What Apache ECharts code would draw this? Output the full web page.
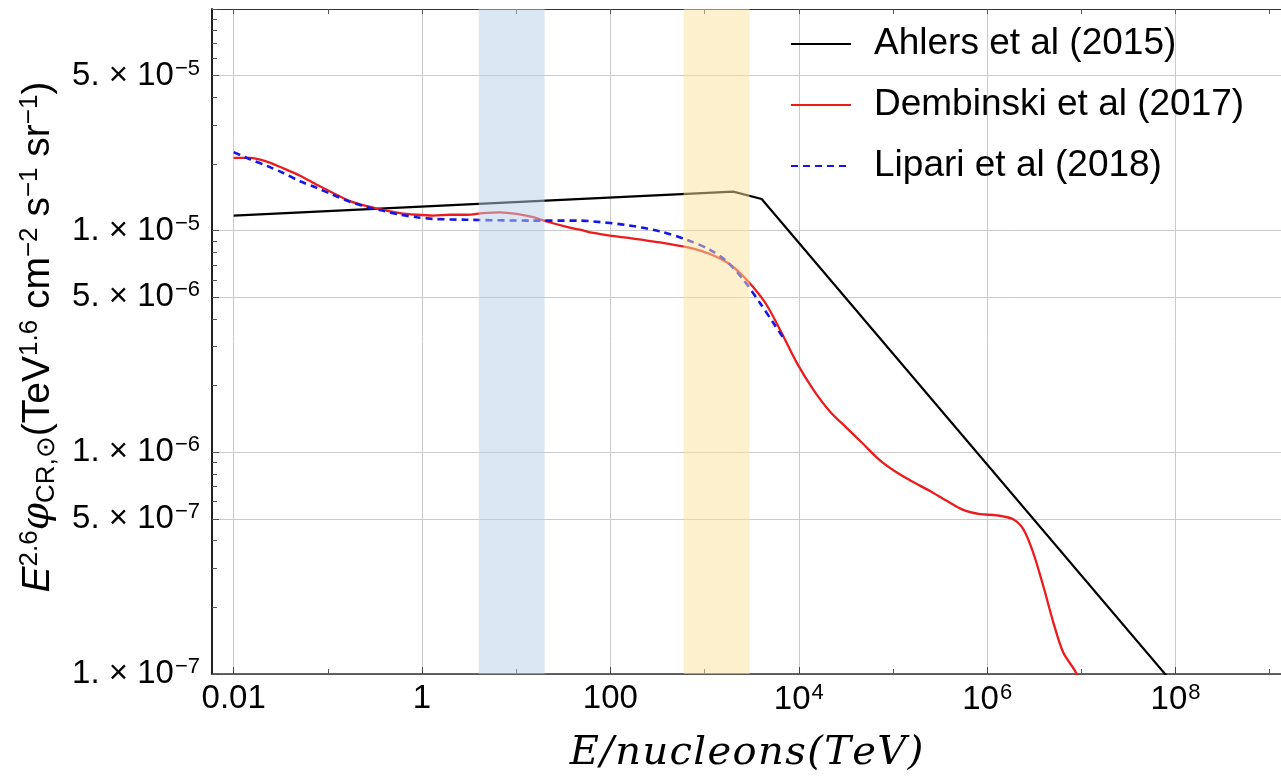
<!DOCTYPE html>
<html><head><meta charset="utf-8">
<script src="https://cdn.jsdelivr.net/npm/echarts@6/dist/echarts.min.js"></script>
<style>html,body{margin:0;padding:0;background:#fff}#c{width:1281px;height:779px}</style>
</head><body><div id="c"></div>
<script>
// ---- data (E in TeV per nucleon, flux = E^2.6 phi in TeV^1.6 cm^-2 s^-1 sr^-1) ----
const ahlersE = [0.01, 2018, 4036, 1e8];
const ahlersF = [1.17e-5, 1.50e-5, 1.39e-5, 8.8e-8];

const dembinskiE = [0.01, 0.0149, 0.0225, 0.0337, 0.0507, 0.0762, 0.1135, 0.172, 0.259, 0.358,
  0.584, 0.879, 1.31, 1.98, 2.98, 4.45, 6.73, 10.1, 15.1, 21.1, 34.4, 47.6, 65.8, 99, 149, 223,
  336, 506, 759, 1140, 1718, 2377, 3290, 4560, 6310, 9500, 14260, 21400, 32200, 48400,
  72800, 109000, 164000, 247000, 372000, 557000, 839000, 1.26e6, 1.89e6, 2.42e6, 3.08e6,
  3.94e6, 5.04e6, 6.43e6, 8.9e6, 1.12e7];
const dembinskiF = [2.13e-5, 2.13e-5, 2.05e-5, 1.91e-5, 1.77e-5, 1.61e-5, 1.48e-5, 1.36e-5, 1.29e-5, 1.25e-5,
  1.20e-5, 1.18e-5, 1.17e-5, 1.18e-5, 1.18e-5, 1.20e-5, 1.21e-5, 1.19e-5, 1.15e-5, 1.10e-5, 1.04e-5, 1.01e-5,
  9.77e-6, 9.5e-6, 9.3e-6, 9.08e-6, 8.85e-6, 8.59e-6, 8.30e-6, 7.85e-6, 7.2e-6, 6.44e-6, 5.55e-6, 4.62e-6,
  3.58e-6, 2.54e-6, 1.92e-6, 1.53e-6, 1.29e-6, 1.09e-6, 9.2e-7, 8.13e-7, 7.35e-7, 6.69e-7,
  6.04e-7, 5.5e-7, 5.26e-7, 5.2e-7, 4.99e-7, 4.5e-7, 3.53e-7, 2.5e-7, 1.71e-7, 1.25e-7, 1.0e-7, 7e-8];

const lipariE = [0.01, 0.0149, 0.0225, 0.0337, 0.0507, 0.0762, 0.1135, 0.172, 0.259, 0.388,
  0.584, 0.879, 1.31, 2.98, 15.1, 47.6, 65.8, 149, 336, 646, 1140, 1718, 2576, 3873, 5358, 6840];
const lipariF = [2.26e-5, 2.10e-5, 1.96e-5, 1.82e-5, 1.67e-5, 1.56e-5, 1.45e-5, 1.35e-5, 1.28e-5, 1.23e-5,
  1.18e-5, 1.15e-5, 1.13e-5, 1.12e-5, 1.11e-5, 1.11e-5, 1.10e-5, 1.06e-5, 9.93e-6, 9.1e-6, 8.2e-6,
  7.27e-6, 6.01e-6, 4.72e-6, 3.84e-6, 3.29e-6];

const seriesNames = ['Ahlers et al (2015)', 'Dembinski et al (2017)', 'Lipari et al (2018)'];

// shaded energy bands (TeV)
const bandLo = [4, 600];
const bandHi = [20, 3000];

// tick labels
const xTickValues = [0.01, 1, 100, 1e4, 1e6, 1e8];
const xTickLabels = ['0.01', '1', '100', '10{s|4}', '10{s|6}', '10{s|8}'];
const yTickValues = [5e-5, 1e-5, 5e-6, 1e-6, 5e-7, 1e-7];
const yTickLabels = ['5. × 10{s|−5}', '1. × 10{s|−5}', '5. × 10{s|−6}', '1. × 10{s|−6}', '5. × 10{s|−7}', '1. × 10{s|−7}'];

// ---- build ----
const L = Math.log10;
const X_MIN = -2.23, X_MAX = 9.12, Y_MIN = -7, Y_MAX = -4;
const pairs = (e, f) => e.map((v, i) => [L(v), L(f[i])]);

const xMajor = xTickValues.map(L);
const xMinor = [-1, 1, 3, 5, 7, 9];
const xAll = [];
for (let k = -2; k <= 9; k++) xAll.push(k);
const yMajor = yTickValues.map(L);
const yAll = [];
for (let k = -7; k <= -5; k++) for (let n = 1; n <= 9; n++) yAll.push(L(n * Math.pow(10, k)));
yAll.push(-4);

function lookup(vals, labels, v) {
  for (let i = 0; i < vals.length; i++) if (Math.abs(vals[i] - v) < 1e-6) return labels[i];
  return '';
}

const FONT = 'Liberation Sans';
const tickFont = 33;
const supRich = { s: { fontSize: 22, fontFamily: FONT, color: '#000', verticalAlign: 'top', padding: [0, 0, 14, 1] } };

const chart = echarts.init(document.getElementById('c'), null, { renderer: 'canvas' });

const xTitle = 'E/nucleons(TeV)'.split('').map(c => '{c|' + c + '}').join('');

const yTitle = '{e|E}{sp|2.6}{ph|φ}{sb|CR,⊙}{m|(TeV}{sp|1.6}{m| cm}{sp|−2}{m| s}{sp|−1}{m| sr}{sp|−1}{m|)}';

chart.setOption({
  animation: false,
  backgroundColor: '#fff',
  grid: { left: 212, top: 9, right: 0, bottom: 104, containLabel: false },
  legend: {
    data: seriesNames,
    orient: 'vertical',
    left: 785, top: 19,
    itemWidth: 60, itemHeight: 16, itemGap: 21,
    itemStyle: { opacity: 0 },
    textStyle: { fontSize: 37, fontFamily: FONT, color: '#000', lineHeight: 40, padding: [0, 0, 0, 18] }
  },
  xAxis: [
    {
      type: 'value', min: X_MIN, max: X_MAX, position: 'bottom',
      axisLine: { show: true, onZero: false, lineStyle: { color: '#333', width: 1.5 } },
      axisTick: { show: true, inside: true, length: 7, customValues: xMajor, lineStyle: { color: '#444' } },
      axisLabel: {
        customValues: xMajor, margin: 8, fontSize: tickFont, fontFamily: FONT, color: '#000',
        formatter: v => lookup(xMajor, xTickLabels, v), rich: supRich
      },
      splitLine: { show: true, lineStyle: { color: '#cacaca', width: 1 } },
      name: xTitle, nameLocation: 'middle', nameGap: 60,
      nameTextStyle: {
        fontSize: 40, fontFamily: 'DejaVu Serif', fontStyle: 'italic', color: '#000',
        rich: { c: { fontSize: 40, fontFamily: 'DejaVu Serif', fontStyle: 'italic', color: '#000', padding: [0, 0.7, 0, 0.7] } }
      }
    },
    {
      type: 'value', min: X_MIN, max: X_MAX, position: 'bottom',
      axisLine: { show: false, onZero: false },
      axisTick: { show: true, inside: true, length: 5, customValues: xMinor, lineStyle: { color: '#555' } },
      axisLabel: { show: false }, splitLine: { show: false }
    },
    {
      type: 'value', min: X_MIN, max: X_MAX, position: 'top',
      axisLine: { show: true, onZero: false, lineStyle: { color: '#333', width: 1.2 } },
      axisTick: { show: true, inside: true, length: 5, customValues: xAll, lineStyle: { color: '#555' } },
      axisLabel: { show: false }, splitLine: { show: false }
    }
  ],
  yAxis: [
    {
      type: 'value', min: Y_MIN, max: Y_MAX, position: 'left',
      axisLine: { show: true, onZero: false, lineStyle: { color: '#222', width: 2 } },
      axisTick: { show: true, inside: true, length: 7, customValues: yMajor, lineStyle: { color: '#444' } },
      axisLabel: {
        customValues: yMajor, margin: 12, fontSize: tickFont, fontFamily: FONT, color: '#000',
        formatter: v => lookup(yMajor, yTickLabels, v), rich: supRich
      },
      splitLine: { show: true, lineStyle: { color: '#cacaca', width: 1 } }
    },
    {
      type: 'value', min: Y_MIN, max: Y_MAX, position: 'left',
      axisLine: { show: false, onZero: false },
      axisTick: { show: true, inside: true, length: 5, customValues: yAll, lineStyle: { color: '#555' } },
      axisLabel: { show: false }, splitLine: { show: false }
    }
  ],
  graphic: [{
    type: 'text', x: 38, y: 337, rotation: Math.PI / 2, silent: true,
    style: {
      text: yTitle, align: 'center', verticalAlign: 'middle', fill: '#000',
      font: '39px "Liberation Sans"',
      rich: {
        e: { fontSize: 39, fontFamily: FONT, fontStyle: 'italic', fill: '#000', color: '#000' },
        m: { fontSize: 39, fontFamily: FONT, fill: '#000', color: '#000' },
        ph: { fontSize: 39, fontFamily: 'DejaVu Serif', fontStyle: 'italic', fill: '#000', color: '#000' },
        sp: { fontSize: 26, fontFamily: FONT, fill: '#000', color: '#000', verticalAlign: 'top', padding: [0, 0, 17, 0] },
        sb: { fontSize: 26, fontFamily: FONT, fill: '#000', color: '#000', verticalAlign: 'bottom', padding: [12, 0, 0, 0] }
      }
    }
  }],
  series: [
    {
      name: seriesNames[0], type: 'line', data: pairs(ahlersE, ahlersF), symbol: 'none', z: 2, clip: true,
      lineStyle: { color: '#000', width: 2.2 }, itemStyle: { color: '#000' }
    },
    {
      name: seriesNames[1], type: 'line', data: pairs(dembinskiE, dembinskiF), symbol: 'none', z: 3, clip: true,
      smooth: 0.3, lineStyle: { color: '#ec1c1c', width: 2.3 }, itemStyle: { color: '#ec1c1c' }
    },
    {
      name: seriesNames[2], type: 'line', data: pairs(lipariE, lipariF), symbol: 'none', z: 4, clip: true,
      smooth: 0.3, lineStyle: { color: '#1616e6', width: 2.6, type: [7, 5] }, itemStyle: { color: '#1616e6' }
    },
    {
      name: 'bands', type: 'custom', z: 10, silent: true, clip: true,
      data: bandLo.map((v, i) => [L(v), L(bandHi[i]), i]),
      encode: { x: [0, 1] },
      renderItem: function (params, api) {
        const p0 = api.coord([api.value(0), Y_MAX]);
        const p1 = api.coord([api.value(1), Y_MIN]);
        const fills = ['rgba(185,207,233,0.5)', 'rgba(250,225,155,0.5)'];
        return {
          type: 'rect',
          shape: { x: p0[0], y: p0[1], width: p1[0] - p0[0], height: p1[1] - p0[1] },
          style: { fill: fills[params.dataIndex] }
        };
      }
    }
  ]
});
</script></body></html>
